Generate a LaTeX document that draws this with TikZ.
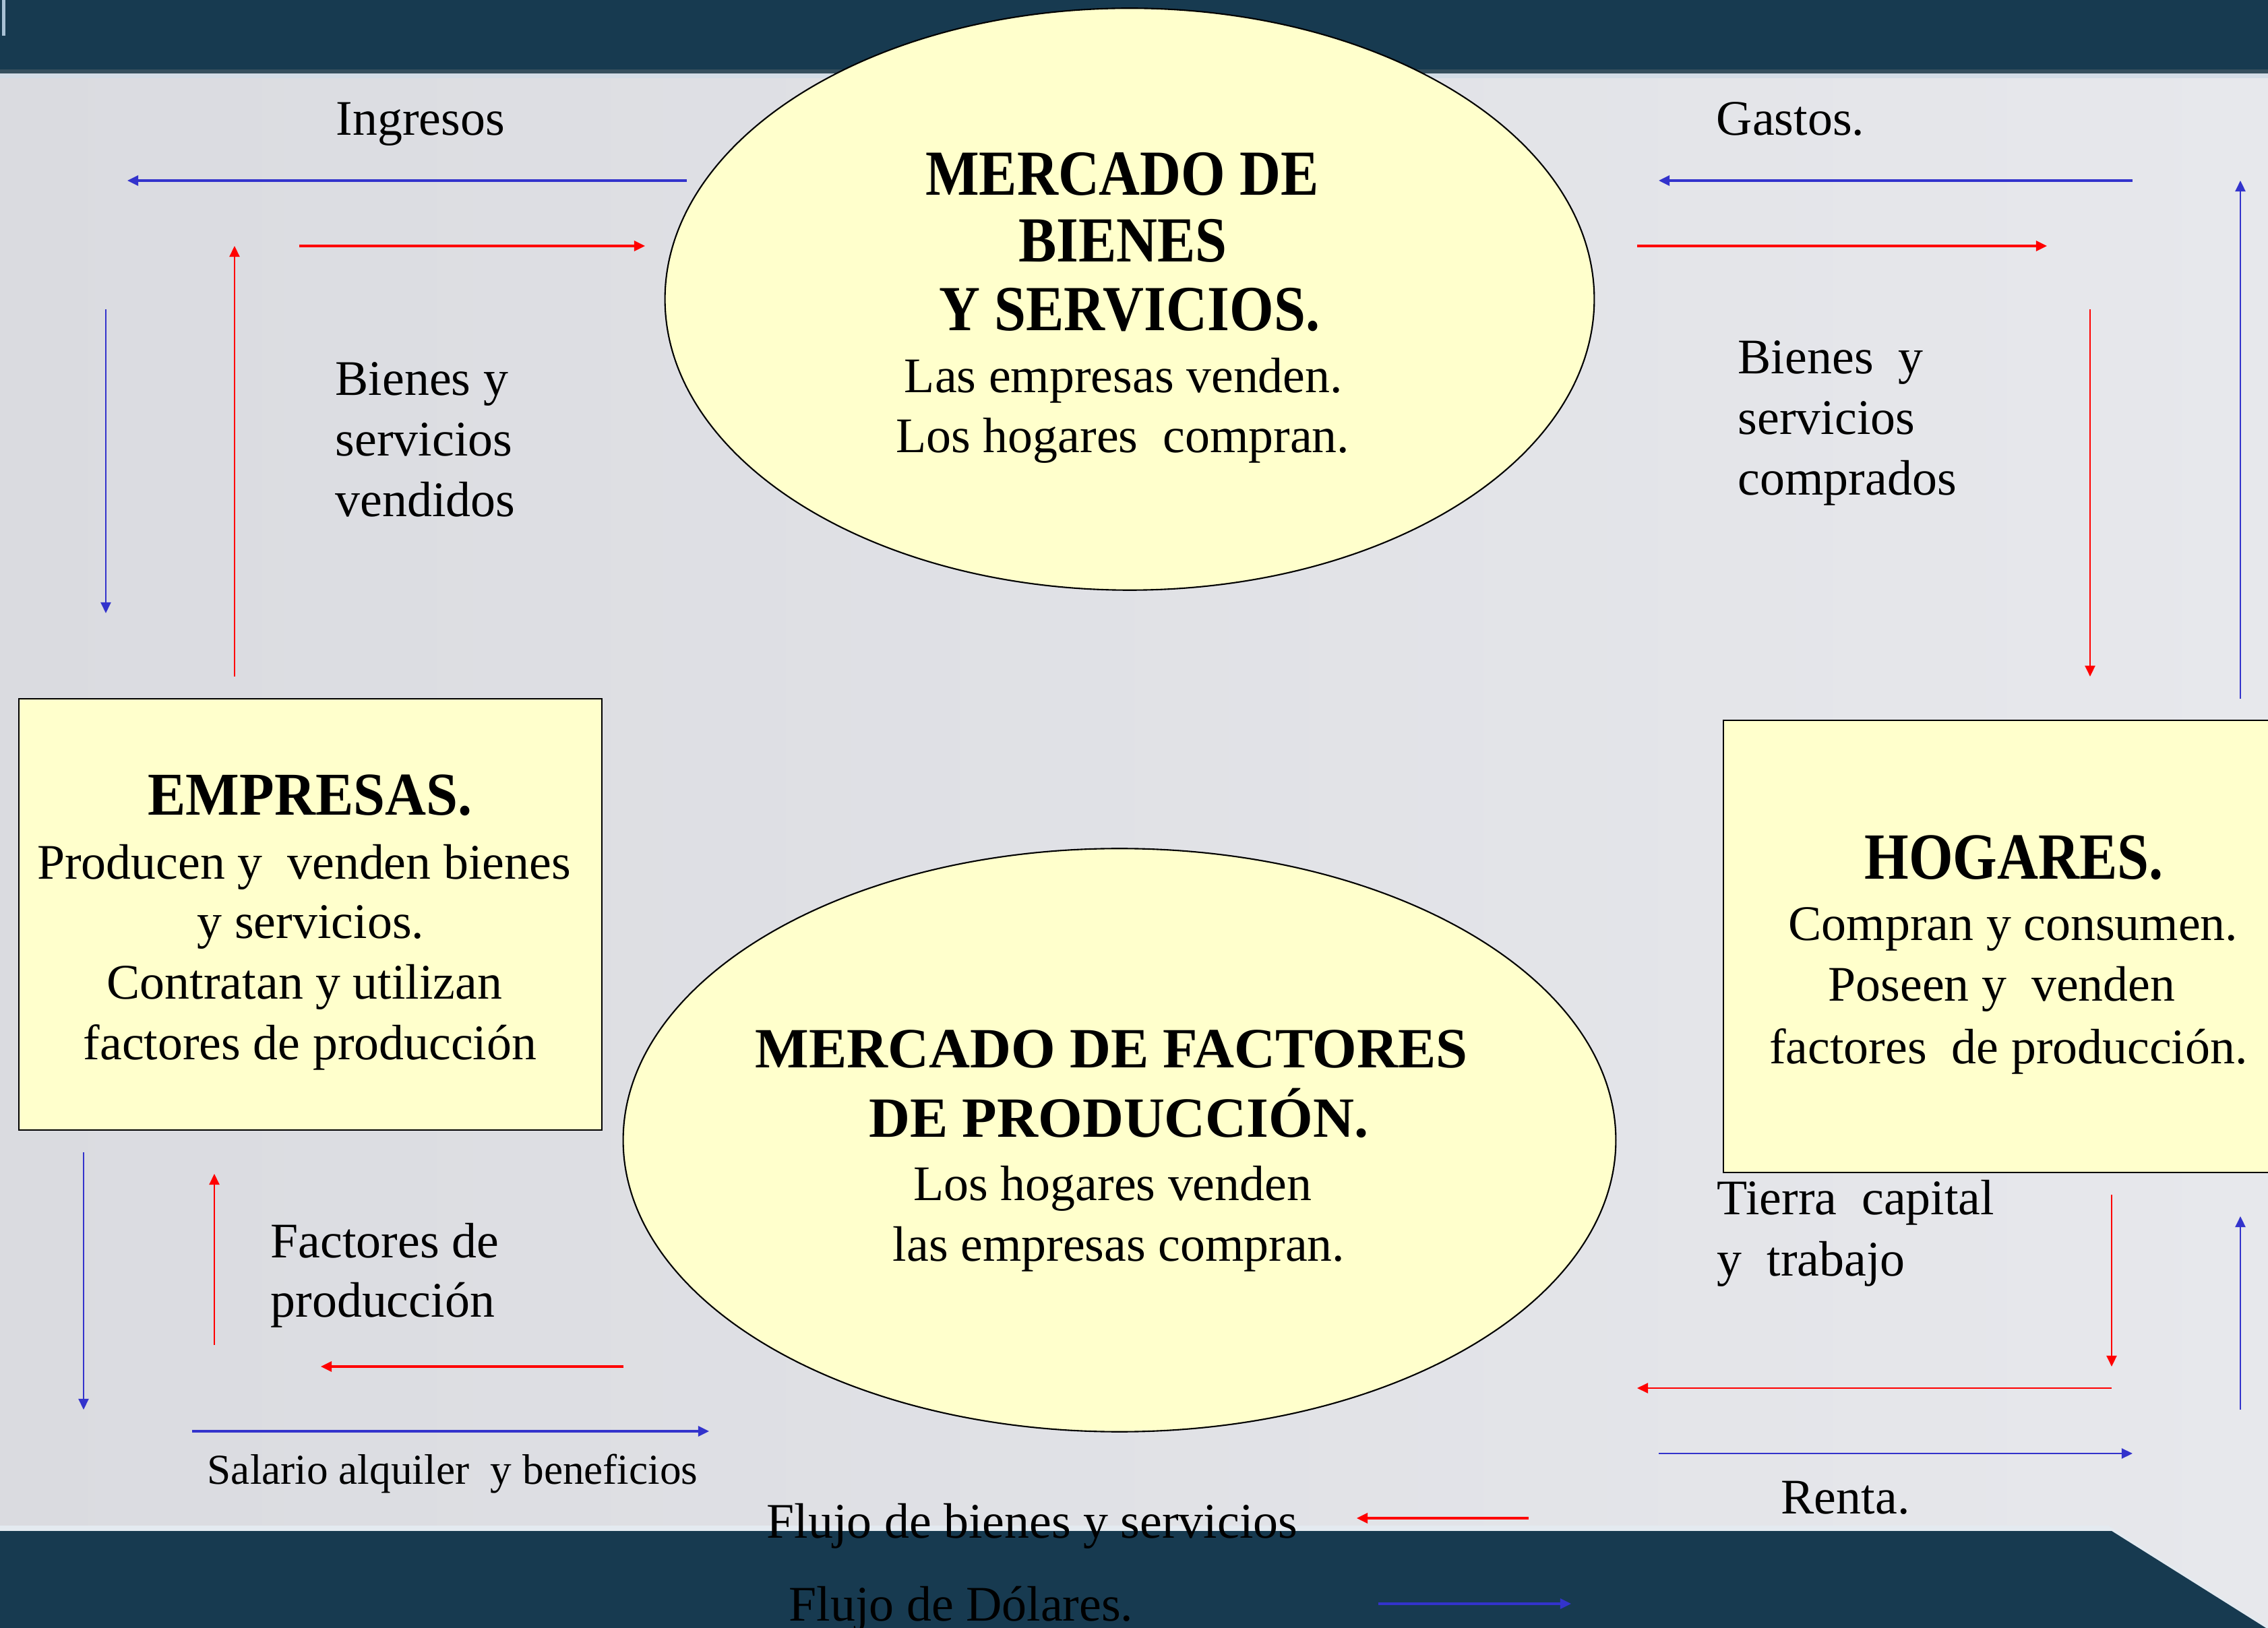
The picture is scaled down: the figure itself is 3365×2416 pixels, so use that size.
\documentclass[tikz,border=0pt]{standalone}
\usepackage{fontspec}
\usepackage{graphicx}
\setmainfont{Liberation Serif}
\usetikzlibrary{arrows.meta,shapes.geometric}
\definecolor{barcol}{HTML}{173A50}
\definecolor{bgL}{HTML}{DADBE0}
\definecolor{bgR}{HTML}{E7E8EC}
\definecolor{pale}{HTML}{FFFFCC}
\definecolor{fblue}{HTML}{3333CC}
\definecolor{fred}{HTML}{FF0000}
\definecolor{edgelight}{HTML}{D3DCE6}
\definecolor{tickcol}{HTML}{A9C1D5}
\tikzset{
  txt/.style={inner sep=0pt, font=\fontsize{21}{25.5}\selectfont, anchor=base west},
  ctxt/.style={txt, anchor=base},
  btxt/.style={inner sep=0pt, font=\fontsize{24}{28}\selectfont\bfseries, anchor=base},
  tipstyle/.style={-{Triangle[length=4.6pt,width=4.3pt]}},
  bluethin/.style={draw=fblue, line width=0.65pt, tipstyle},
  bluethick/.style={draw=fblue, line width=0.9pt, tipstyle},
  redthin/.style={draw=fred, line width=0.65pt, tipstyle},
  redthick/.style={draw=fred, line width=0.9pt, tipstyle},
  market/.style={ellipse, draw=black, line width=0.6pt, fill=pale, inner sep=0pt},
  agent/.style={rectangle, draw=black, line width=0.6pt, fill=pale, inner sep=0pt},
}
\begin{document}
\begin{tikzpicture}[x=0.01cm, y=-0.01cm]
\clip (0,0) rectangle (3365,2416);
% background
\shade[left color=bgL, right color=bgR] (0,0) rectangle (3365,2416);
% top bar
\fill[barcol] (0,0) rectangle (3365,106);
\fill[barcol!70!gray] (0,103) rectangle (3365,109);
\fill[edgelight] (0,109) rectangle (3365,116);
\fill[tickcol] (3,0) rectangle (8,53);
% bottom bar
\fill[edgelight!60!white] (0,2264) -- (3128,2264) -- (3365,2414) -- (3365,2416) -- (0,2416) -- cycle;
\fill[barcol] (0,2272) -- (3133,2272) -- (3362,2416) -- (0,2416) -- cycle;

% markets and agents
\node[market, minimum width=13.78cm, minimum height=8.63cm] (mb) at (1676,444) {};
\node[market, minimum width=14.72cm, minimum height=8.65cm] (mf) at (1661,1692) {};
\node[agent, minimum width=8.65cm, minimum height=6.40cm] (emp) at (460.5,1357) {};
\node[agent, minimum width=8.63cm, minimum height=6.71cm] (hog) at (2988.5,1404.5) {};

% text of market of goods
\node[btxt] (t1) at (1665,290) {\scalebox{1}[1.13]{MERCADO DE}};
\node[btxt] (t2) at (1666,389) {\scalebox{1}[1.13]{BIENES}};
\node[btxt] (t3) at (1676,491) {\scalebox{1}[1.13]{Y SERVICIOS.}};
\node[ctxt] (t4) at (1667,583) {Las empresas venden.};
\node[ctxt] (t5) at (1666,672) {Los hogares~ compran.};

% text of factor market
\node[btxt] (b1) at (1649,1584) {MERCADO DE FACTORES};
\node[btxt] (b2) at (1660,1688) {DE PRODUCCIÓN.};
\node[ctxt] (b3) at (1651,1781) {Los hogares venden};
\node[ctxt] (b4) at (1660,1871) {las empresas compran.};

% empresas
\node[btxt] (e1) at (460,1210) {\scalebox{1}[1.07]{EMPRESAS.}};
\node[ctxt] (e2) at (451,1305) {Producen y~ venden bienes};
\node[ctxt] (e3) at (461,1393) {y servicios.};
\node[ctxt] (e4) at (452,1483) {Contratan y utilizan};
\node[ctxt] (e5) at (460,1573) {factores de producción};

% hogares
\node[btxt] (h1) at (2988,1305) {\scalebox{1}[1.16]{HOGARES.}};
\node[ctxt] (h2) at (2987,1396) {Compran y consumen.};
\node[ctxt] (h3) at (2970,1486) {Poseen y~ venden};
\node[ctxt] (h4) at (2980,1578) {factores~ de producción.};

% flow labels
\node[txt] (ing) at (498,201) {Ingresos};
\node[txt] (gas) at (2546,201) {Gastos.};
\node[txt] (bv1) at (497,587) {Bienes y};
\node[txt] (bv2) at (497,677) {servicios};
\node[txt] (bv3) at (497,767) {vendidos};
\node[txt] (bc1) at (2578,555) {Bienes~ y};
\node[txt] (bc2) at (2578,645) {servicios};
\node[txt] (bc3) at (2578,735) {comprados};
\node[txt] (fp1) at (401,1866) {Factores de};
\node[txt] (fp2) at (401,1954) {producción};
\node[txt] (tc1) at (2547,1802) {Tierra~ capital};
\node[txt] (tc2) at (2547,1893) {y~ trabajo};
\node[txt, font=\fontsize{18}{21.6}\selectfont] (sal) at (307,2202) {Salario alquiler~ y beneficios};
\node[txt] (ren) at (2642,2246) {Renta.};
\node[txt] (lg1) at (1137,2282) {Flujo de bienes y servicios};
\node[txt] (lg2) at (1170,2405) {Flujo de Dólares.};

% arrow end points
\coordinate (a1s) at (1019,268);  \coordinate (a1e) at (189,268);
\coordinate (a2s) at (444,365);   \coordinate (a2e) at (957,365);
\coordinate (a3s) at (348,1004);  \coordinate (a3e) at (348,365);
\coordinate (a4s) at (157,459);   \coordinate (a4e) at (157,910);
\coordinate (a5s) at (3164,268);  \coordinate (a5e) at (2461,268);
\coordinate (a6s) at (2429,365);  \coordinate (a6e) at (3037,365);
\coordinate (a7s) at (3101,459);  \coordinate (a7e) at (3101,1004);
\coordinate (a8s) at (3324,1037); \coordinate (a8e) at (3324,268);
\coordinate (a9s) at (124,1710);  \coordinate (a9e) at (124,2092);
\coordinate (a10s) at (318,1996); \coordinate (a10e) at (318,1742);
\coordinate (a11s) at (925,2028); \coordinate (a11e) at (476,2028);
\coordinate (a12s) at (285,2124); \coordinate (a12e) at (1052,2124);
\coordinate (a13s) at (3133,1773); \coordinate (a13e) at (3133,2028);
\coordinate (a14s) at (3324,2092); \coordinate (a14e) at (3324,1805);
\coordinate (a15s) at (3133,2060); \coordinate (a15e) at (2429,2060);
\coordinate (a16s) at (2461,2157); \coordinate (a16e) at (3164,2157);
\coordinate (a17s) at (2268,2253); \coordinate (a17e) at (2013,2253);
\coordinate (a18s) at (2045,2380); \coordinate (a18e) at (2331,2380);

\draw[bluethick] (a1s) -- (a1e);
\draw[redthick] (a2s) -- (a2e);
\draw[redthin] (a3s) -- (a3e);
\draw[bluethin] (a4s) -- (a4e);
\draw[bluethick] (a5s) -- (a5e);
\draw[redthick] (a6s) -- (a6e);
\draw[redthin] (a7s) -- (a7e);
\draw[bluethin] (a8s) -- (a8e);
\draw[bluethin] (a9s) -- (a9e);
\draw[redthin] (a10s) -- (a10e);
\draw[redthick] (a11s) -- (a11e);
\draw[bluethick] (a12s) -- (a12e);
\draw[redthin] (a13s) -- (a13e);
\draw[bluethin] (a14s) -- (a14e);
\draw[redthin] (a15s) -- (a15e);
\draw[bluethin] (a16s) -- (a16e);
\draw[redthick] (a17s) -- (a17e);
\draw[bluethick] (a18s) -- (a18e);
\end{tikzpicture}
\end{document}
